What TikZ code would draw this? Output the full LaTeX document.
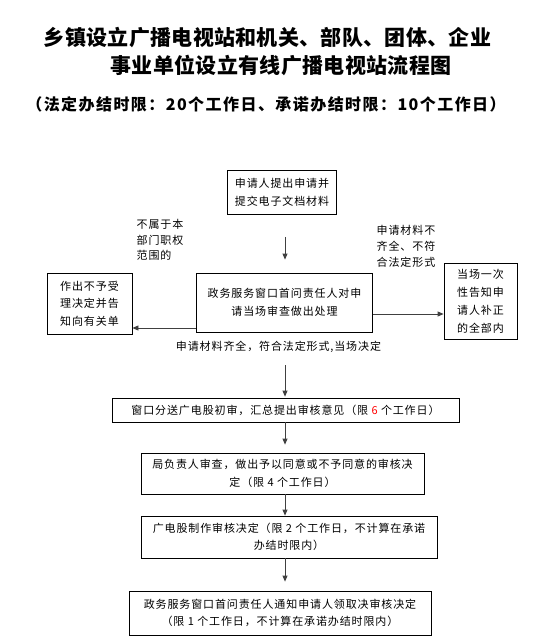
\documentclass[tikz,border=0pt]{standalone}
\usepackage{fontspec}
\setmainfont{Noto Sans CJK SC}[LetterSpace=8]
\newfontfamily\titlefont{Noto Sans CJK SC}[LetterSpace=1.5]
\newfontfamily\subtitlefont{Noto Sans CJK SC}[LetterSpace=9]
\usepackage{xcolor}
\usepackage{tikz}
\usetikzlibrary{arrows.meta}
\tikzset{
  flow box/.style 2 args={
    draw,
    line width=0.8pt,
    minimum width={#1},
    minimum height={#2},
    inner sep=1pt,
    align=center,
    font=\fontsize{11}{17.5}\selectfont,
  },
  side note/.style={
    inner sep=0pt,
    align=left,
    font=\fontsize{11}{15.5}\selectfont,
  },
  flow arrow/.style={
    draw=black!75,
    line width=0.8pt,
    -{Triangle[length=6pt,width=5pt]},
  }
}

\begin{document}
\begin{tikzpicture}[x=1pt,y=-1pt]
    \useasboundingbox (0,0) rectangle (556,639);

    % title
    \node [font=\titlefont\bfseries\fontsize{21}{21}\selectfont] (title1) at (267.5,38) {乡镇设立广播电视站和机关、部队、团体、企业};
    \node [font=\titlefont\bfseries\fontsize{21}{21}\selectfont] (title2) at (281,65) {事业单位设立有线广播电视站流程图};
    \node [font=\subtitlefont\bfseries\fontsize{16}{16}\selectfont] (limits) at (266,104.5) {（法定办结时限：20个工作日、承诺办结时限：10个工作日）};

    % upper part
    \node [flow box={109}{44}] (apply) at (282,192.5) {申请人提出申请并\\提交电子文档材料};
    \node [flow box={176}{59}] (check) at (284.5,302.5) {政务服务窗口首问责任人对申\\请当场审查做出处理};
    \node [flow box={85}{61}, align=left] (refuse) at (89.5,303.5) {作出不予受\\理决定并告\\知向有关单};
    \node [flow box={73}{76}, align=left, font=\fontsize{11}{18}\selectfont] (inform) at (480.5,301) {当场一次\\性告知申\\请人补正\\的全部内};

    \node [side note] (outside) at (160,240) {不属于本\\部门职权\\范围的};
    \node [side note, font=\fontsize{11}{16}\selectfont] (missing) at (406,246) {申请材料不\\齐全、不符\\合法定形式};
    \node [side note] (complete) at (278.5,347) {申请材料齐全，符合法定形式,当场决定};

    % lower chain
    \node [flow box={347}{24}] (b1) at (285.5,410) {窗口分送广电股初审，汇总提出审核意见（限 \textcolor{red}{6} 个工作日）};
    \node [flow box={283}{41}] (b2) at (282.5,473.5) {局负责人审查，做出予以同意或不予同意的审核决\\定（限 4 个工作日）};
    \node [flow box={296}{42}] (b3) at (289,537) {广电股制作审核决定（限 2 个工作日，不计算在承诺\\办结时限内）};
    \node [flow box={302}{44}] (b4) at (280,613) {政务服务窗口首问责任人通知申请人领取决审核决定\\（限 1 个工作日，不计算在承诺办结时限内）};

    \coordinate (axis) at (285,0);

    % connectors
    \draw [flow arrow, shorten <=22pt, shorten >=13pt] (apply.south -| axis) -- (check.north -| axis);
    \draw [flow arrow] ([yshift=-25.5pt]check.west) -- ([yshift=-25.5pt]check.west -| refuse.east);
    \draw [flow arrow] ([yshift=-11.5pt]check.east) -- ([yshift=-11.5pt]check.east -| inform.west);
    \draw [flow arrow, shorten <=33pt, shorten >=1pt] (check.south -| axis) -- (b1.north -| axis);
    \draw [flow arrow, shorten >=8pt] (b1.south -| axis) -- (b2.north -| axis);
    \draw [flow arrow] (b2.south -| axis) -- (b3.north -| axis);
    \draw [flow arrow, shorten >=9pt] (b3.south -| axis) -- (b4.north -| axis);
\end{tikzpicture}
\end{document}
